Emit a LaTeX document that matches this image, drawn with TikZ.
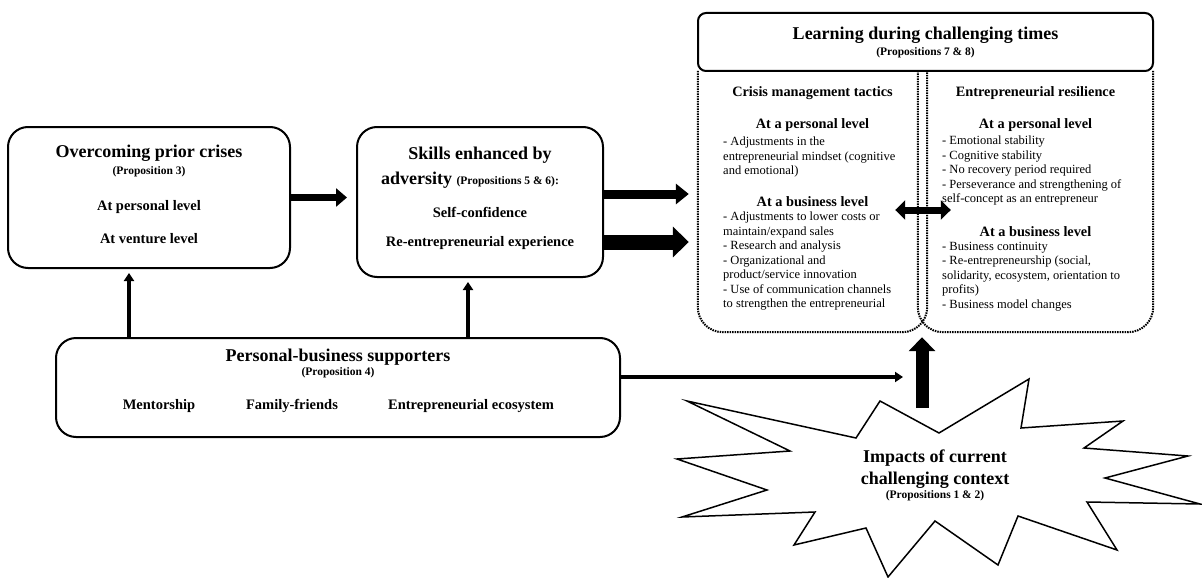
\documentclass[tikz,border=0pt]{standalone}
\usepackage{fontspec}
\setmainfont{Liberation Serif}
\usetikzlibrary{arrows.meta}
\tikzset{
  box/.style={draw, line width=2pt, rounded corners=20pt},
  ttl/.style={font=\fontsize{18}{22}\selectfont\bfseries, inner sep=0pt},
  prp/.style={font=\fontsize{11.5}{13}\selectfont\bfseries, inner sep=0pt},
  itm/.style={font=\fontsize{14.5}{16}\selectfont\bfseries, inner sep=0pt},
  sub/.style={font=\fontsize{14.3}{16}\selectfont\bfseries, inner sep=0pt},
  txt/.style={font=\fontsize{12.5}{14.5}\selectfont, inner sep=0pt, align=left, anchor=north west},
  dots/.style={line width=2pt, dash pattern=on 1.5pt off 1pt, rounded corners=25pt},
}
\begin{document}
\begin{tikzpicture}[x=1pt, y=-1pt]
\useasboundingbox (0,0) rectangle (1202,578);

% boxes
\node[box, minimum width=282pt, minimum height=141pt] (B1) at (149,197.5) {};
\node[box, minimum width=246pt, minimum height=150pt] (B2) at (480,202) {};
\node[box, minimum width=564pt, minimum height=99pt] (S) at (338,387.5) {};
\node[box, rounded corners=8pt, minimum width=455pt, minimum height=58pt] (L) at (925.5,42) {};
\node[minimum width=229pt, minimum height=261pt] (C) at (812.5,201.5) {};
\node[minimum width=235pt, minimum height=261pt] (R) at (1035.5,201.5) {};
\draw[dots] (C.north west) |- (C.south east) -- (C.north east);
\draw[dots] (R.north west) |- (R.south east) -- (R.north east);

% prior crises
\node[ttl] (t1) at (149,153) {Overcoming prior crises};
\node[prp] (p1) at (149,172) {(Proposition 3)};
\node[itm] (i1) at (149,207) {At personal level};
\node[itm] (i2) at (149,239) {At venture level};

% skills
\node[ttl] (t2) at (480,155) {Skills enhanced by};
\node[ttl] (t2b) at (470,180) {adversity {\fontsize{11.5}{13}\selectfont (Propositions 5 \& 6):}};
\node[itm] (i3) at (480,212) {Self-confidence};
\node[itm] (i4) at (480,243) {Re-entrepreneurial experience};

% learning
\node[font=\fontsize{18}{21}\selectfont\bfseries, inner sep=0pt] (t3) at (925.5,35) {Learning during challenging times};
\node[prp] (p3) at (925.5,53) {(Propositions 7 \& 8)};

\node[sub] (c0) at (812.5,93) {Crisis management tactics};
\node[sub] (c1) at (812.5,125) {At a personal level};
\node[txt] (c1b) at (723,137) {- Adjustments in the\\entrepreneurial mindset (cognitive\\and emotional)};
\node[sub] (c2) at (812.5,202) {At a business level};
\node[txt] (c2b) at (723,212) {- Adjustments to lower costs or\\maintain/expand sales\\- Research and analysis\\- Organizational and\\product/service innovation\\- Use of communication channels\\to strengthen the entrepreneurial};

\node[sub] (r0) at (1035.5,93) {Entrepreneurial resilience};
\node[sub] (r1) at (1035.5,125) {At a personal level};
\node[txt] (r1b) at (942,136) {- Emotional stability\\- Cognitive stability\\- No recovery period required\\- Perseverance and strengthening of\\self-concept as an entrepreneur};
\node[sub] (r2) at (1035.5,232) {At a business level};
\node[txt] (r2b) at (942,242) {- Business continuity\\- Re-entrepreneurship (social,\\solidarity, ecosystem, orientation to\\profits)\\- Business model changes};

% supporters
\node[ttl] (t4) at (338,357) {Personal-business supporters};
\node[prp] (p4) at (338,373) {(Proposition 4)};
\node[itm] (s1) at (159,406) {Mentorship};
\node[itm] (s2) at (292,406) {Family-friends};
\node[itm] (s3) at (471,406) {Entrepreneurial ecosystem};

% current context
\draw[line width=1.5pt] (687,401) -- (856,438) -- (880,401) -- (939,433) -- (1029,379)
  -- (1021,428) -- (1123,421) -- (1084,448) -- (1188,456) -- (1105,478) -- (1200,504)
  -- (1087,502) -- (1117,550) -- (1018,516) -- (998,565) -- (935,521) -- (888,577)
  -- (866,528) -- (794,545) -- (815,512) -- (682,517) -- (767,490) -- (677,459)
  -- (790,451) -- cycle;
\node[ttl, align=center] (Z) at (935,469) {Impacts of current\\challenging context};
\node[prp] (p5) at (935,496) {(Propositions 1 \& 2)};
\coordinate (zt) at (922,408);

% arrows
\coordinate (a1) at ([yshift=8pt]B2.east);
\coordinate (a2) at ([yshift=-40pt]B2.east);
\coordinate (d1) at ([xshift=-32pt,yshift=-8.5pt]C.east);
\coordinate (d2) at ([xshift=33pt,yshift=-8.5pt]R.west);
\coordinate (v1) at ([xshift=-209pt]S.north);
\coordinate (v2) at ([xshift=130pt]S.north);
\coordinate (h1) at ([yshift=10.5pt]S.east);

\draw[line width=7pt, -{Triangle[length=11pt,width=18pt]}, shorten >=9pt] (B1.east) -- (B1.east -| B2.west);
\draw[line width=9pt, -{Triangle[length=13pt,width=20pt]}, shorten >=9pt] (a1) -- (a1 -| C.west);
\draw[line width=15pt, -{Triangle[length=16pt,width=30pt]}, shorten >=9pt] (a2) -- (a2 -| C.west);
\draw[line width=7pt, {Triangle[length=10pt,width=19pt]}-{Triangle[length=10pt,width=19pt]}] (d1) -- (d2);
\draw[line width=4pt, -{Triangle[length=8pt,width=10pt]}, shorten >=4pt] (v1) -- (v1 |- B1.south);
\draw[line width=4pt, -{Triangle[length=8pt,width=10pt]}, shorten >=4pt] (v2) -- (v2 |- B2.south);
\draw[line width=4.5pt, -{Triangle[length=8pt,width=10pt]}, shorten >=19pt] (h1) -- (h1 -| zt);
\draw[line width=13pt, -{Triangle[length=14pt,width=26pt]}, shorten >=5pt] (zt) -- (zt |- C.south);
\end{tikzpicture}
\end{document}
